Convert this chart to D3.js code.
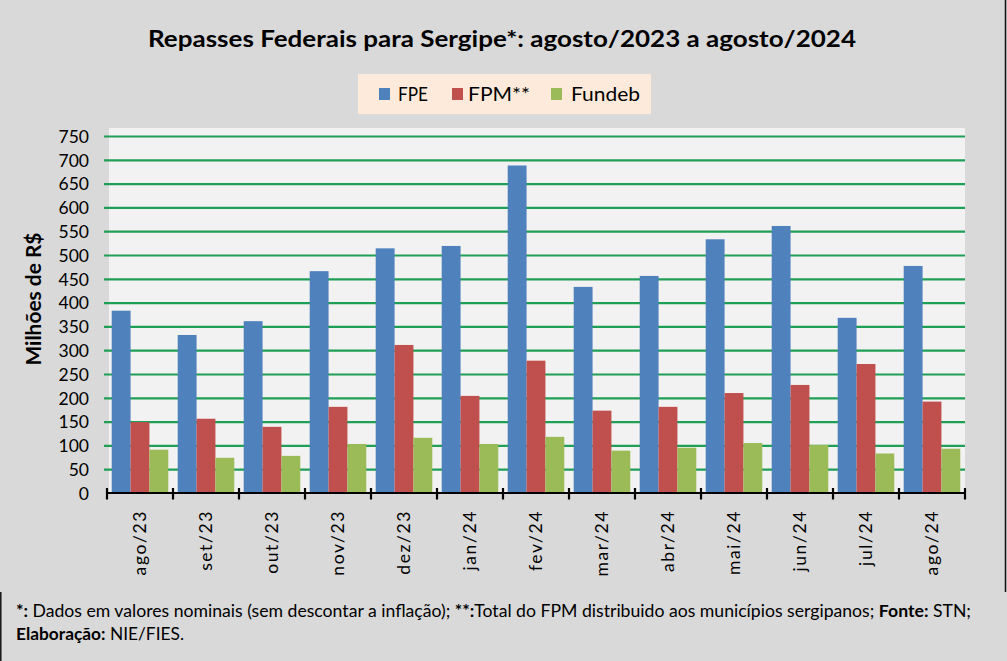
<!DOCTYPE html>
<html>
<head>
<meta charset="utf-8">
<script src="https://cdn.jsdelivr.net/npm/d3@7"></script>
<style>
  html, body { margin: 0; padding: 0; background: #d9d9d9; }
  svg { display: block; }
</style>
</head>
<body>
<script>
var meses = ['ago/23', 'set/23', 'out/23', 'nov/23', 'dez/23', 'jan/24', 'fev/24',
    'mar/24', 'abr/24', 'mai/24', 'jun/24', 'jul/24', 'ago/24'];
var series = ['FPE', 'FPM**', 'Fundeb'];
var fpe = [383, 332, 361, 466, 514, 519, 688, 433, 456, 533, 561, 368, 477];
var fpm = [149, 156, 139, 181, 311, 204, 278, 173, 181, 210, 227, 271, 192];
var fundeb = [91, 74, 78, 103, 116, 103, 118, 89, 95, 105, 101, 83, 93];
var yTicks = [0, 50, 100, 150, 200, 250, 300, 350, 400, 450, 500, 550, 600, 650, 700, 750];

var cores = ['#4f81bd', '#c0504d', '#9bbb59'];
var valores = [fpe, fpm, fundeb];

var canvasWidth = 1007;
var canvasHeight = 661;
var fonte = 'Lato, "Open Sans", sans-serif';

var svg = d3.select('body')
    .append('svg')
    .attr('width', canvasWidth)
    .attr('height', canvasHeight);

svg.append('rect')
    .attr('width', canvasWidth)
    .attr('height', canvasHeight)
    .attr('fill', '#d9d9d9');

// borders of the chart box and footer box
svg.append('line')
    .attr('x1', 1005.5).attr('x2', 1005.5)
    .attr('y1', 0).attr('y2', 592)
    .attr('stroke', '#111').attr('stroke-width', 1.5);
svg.append('line')
    .attr('x1', 0.8).attr('x2', 0.8)
    .attr('y1', 592).attr('y2', canvasHeight)
    .attr('stroke', '#111').attr('stroke-width', 1.5);

// squeeze text (or its tspans) to a target width, Calibri is narrower than Lato
function squeeze(sel, target) {
    var node = sel.node();
    var spans = sel.selectAll('tspan').nodes();
    var total = node.getComputedTextLength();
    var k = target / total;
    if (spans.length) {
        spans.forEach(function (s) {
            var w = s.getComputedTextLength();
            d3.select(s).attr('textLength', w * k).attr('lengthAdjust', 'spacingAndGlyphs');
        });
    } else {
        sel.attr('textLength', target).attr('lengthAdjust', 'spacingAndGlyphs');
    }
}

// title
var title = svg.append('text')
    .attr('x', 502)
    .attr('y', 47)
    .attr('text-anchor', 'middle')
    .attr('font-family', fonte)
    .attr('font-weight', 'bold')
    .attr('font-size', '23px')
    .attr('fill', '#000')
    .text('Repasses Federais para Sergipe*: agosto/2023 a agosto/2024');
squeeze(title, 708);

// scales
var x0 = d3.scaleBand().domain(meses).range([107, 965]);
var x1 = d3.scaleBand().domain(series).range([0, x0.bandwidth()]).paddingOuter(0.25);
var y = d3.scaleLinear().domain([0, 750]).range([493, 136]);

// plot area
svg.append('rect')
    .attr('x', 109)
    .attr('y', 128)
    .attr('width', 965 - 109)
    .attr('height', 493 - 128)
    .attr('fill', '#f2f2f2');

// gridlines
svg.append('g')
    .attr('transform', 'translate(104,0)')
    .call(d3.axisLeft(y).tickValues(yTicks.slice(1)).tickSize(-(965 - 104)).tickFormat(''))
    .call(function (g) {
        g.select('.domain').remove();
        g.selectAll('line')
            .attr('stroke', '#1f9e55')
            .attr('stroke-width', 2.2);
    });

// y tick labels
svg.append('g')
    .attr('transform', 'translate(89,0)')
    .call(d3.axisLeft(y).tickValues(yTicks).tickSize(0).tickPadding(0))
    .call(function (g) {
        g.select('.domain').remove();
        g.selectAll('text')
            .attr('font-family', fonte)
            .attr('font-size', '17.5px')
            .attr('fill', '#000')
            .attr('dy', '0.36em');
    });

// bars
var groups = svg.append('g')
    .selectAll('g')
    .data(meses)
    .enter()
    .append('g')
    .attr('transform', function (d) {
        return 'translate(' + x0(d) + ',0)';
    });

groups.selectAll('rect')
    .data(function (d, i) {
        return series.map(function (s, j) {
            return { serie: s, valor: valores[j][i], cor: cores[j] };
        });
    })
    .enter()
    .append('rect')
    .attr('x', function (d) { return x1(d.serie); })
    .attr('y', function (d) { return y(d.valor); })
    .attr('width', x1.bandwidth())
    .attr('height', function (d) { return y(0) - y(d.valor); })
    .attr('fill', function (d) { return d.cor; });

// x axis
var xAxis = svg.append('g')
    .attr('transform', 'translate(0,493)');
xAxis.append('line')
    .attr('x1', 106).attr('x2', 966)
    .attr('stroke', '#000').attr('stroke-width', 2.2);
xAxis.selectAll('.tk')
    .data(meses.concat(['fim']))
    .enter()
    .append('line')
    .attr('class', 'tk')
    .attr('x1', function (d, i) { return i < meses.length ? x0(d) : 965; })
    .attr('x2', function (d, i) { return i < meses.length ? x0(d) : 965; })
    .attr('y1', -5)
    .attr('y2', 6.5)
    .attr('stroke', '#000')
    .attr('stroke-width', 2.2);
xAxis.selectAll('.lbl')
    .data(meses)
    .enter()
    .append('text')
    .attr('class', 'lbl')
    .attr('transform', function (d) {
        return 'translate(' + (x0(d) + x0.bandwidth() / 2 + 6) + ',17) rotate(-90)';
    })
    .attr('text-anchor', 'end')
    .attr('font-family', fonte)
    .attr('font-size', '17.5px')
    .attr('letter-spacing', '1.6px')
    .attr('fill', '#000')
    .text(function (d) { return d; });

// y axis title
var yTitle = svg.append('text')
    .attr('transform', 'translate(41,299) rotate(-90)')
    .attr('text-anchor', 'middle')
    .attr('font-family', fonte)
    .attr('font-weight', 'bold')
    .attr('font-size', '20px')
    .attr('fill', '#000')
    .text('Milhões de R$');
squeeze(yTitle, 133);

// legend
svg.append('rect')
    .attr('x', 358)
    .attr('y', 74)
    .attr('width', 293)
    .attr('height', 40)
    .attr('fill', '#fdeada');

var legX = [379, 452, 551];
var legTxt = [398, 468, 571];
var legW = [30, 62, 69];
series.forEach(function (s, i) {
    svg.append('rect')
        .attr('x', legX[i])
        .attr('y', 88)
        .attr('width', 11)
        .attr('height', 12)
        .attr('fill', cores[i]);
    var t = svg.append('text')
        .attr('x', legTxt[i])
        .attr('y', 101)
        .attr('font-family', fonte)
        .attr('font-size', '20px')
        .attr('fill', '#000')
        .text(s);
    squeeze(t, legW[i]);
});

// footer
var nota1 = svg.append('text')
    .attr('x', 16)
    .attr('y', 617)
    .attr('font-family', fonte)
    .attr('font-size', '17px')
    .attr('fill', '#000');
nota1.append('tspan').attr('font-weight', 'bold').text('*:');
nota1.append('tspan').text(' Dados em valores nominais (sem descontar a inflação); ');
nota1.append('tspan').attr('font-weight', 'bold').text('**:');
nota1.append('tspan').text('Total  do FPM distribuido aos municípios sergipanos; ');
nota1.append('tspan').attr('font-weight', 'bold').text('Fonte:');
nota1.append('tspan').text(' STN;');
squeeze(nota1, 955);

var nota2 = svg.append('text')
    .attr('x', 16)
    .attr('y', 640)
    .attr('font-family', fonte)
    .attr('font-size', '17px')
    .attr('fill', '#000');
nota2.append('tspan').attr('font-weight', 'bold').text('Elaboração:');
nota2.append('tspan').text(' NIE/FIES.');
squeeze(nota2, 168);
</script>
</body>
</html>
